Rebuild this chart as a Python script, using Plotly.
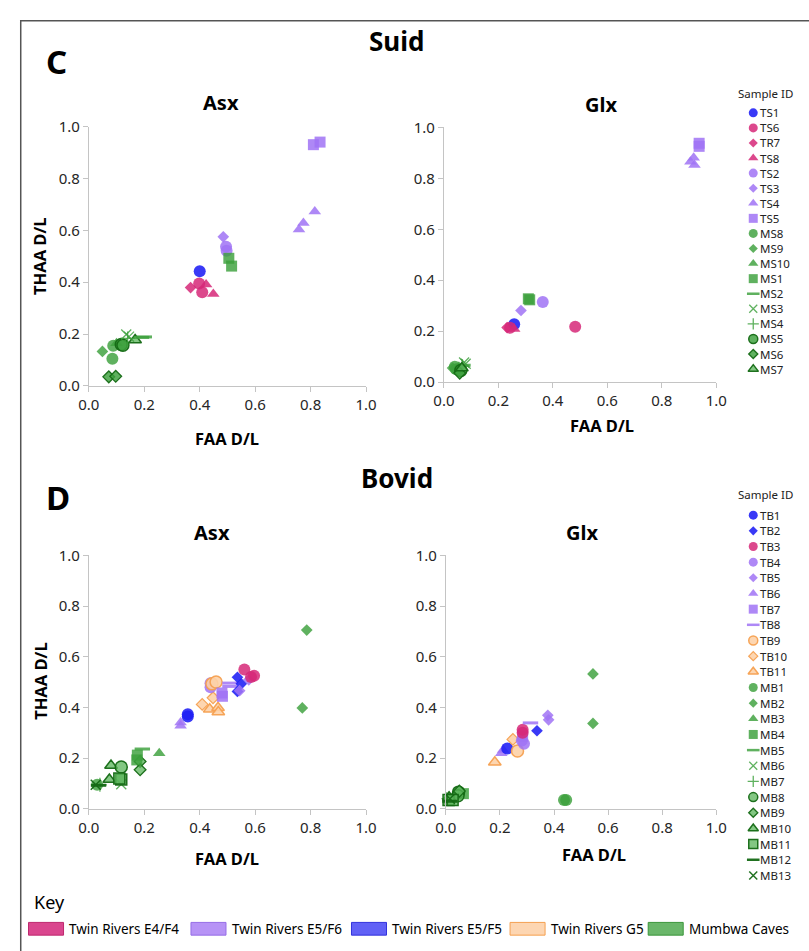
import plotly.graph_objects as go

FIG_W, FIG_H = 809, 951

# ---------------- data: FAA D/L (x) and THAA D/L (y) per sample ----------------
# Suid, Asx
suid_asx_id = ["TS1", "TS6", "TS6", "TR7", "TS8", "TS8", "TS2", "TS2", "TS3",
               "TS4", "TS4", "TS4", "TS5", "TS5", "MS1", "MS1", "MS8", "MS8",
               "MS9", "MS6", "MS6", "MS10", "MS5", "MS5", "MS7", "MS3", "MS3",
               "MS4", "MS2", "MS2"]
suid_asx_faa = [0.400, 0.398, 0.409, 0.367, 0.423, 0.449, 0.495, 0.497, 0.485,
                0.815, 0.774, 0.758, 0.810, 0.834, 0.505, 0.515, 0.085, 0.088,
                0.049, 0.072, 0.097, 0.100, 0.117, 0.123, 0.167, 0.135, 0.145,
                0.140, 0.190, 0.200]
suid_asx_thaa = [0.442, 0.395, 0.361, 0.379, 0.391, 0.354, 0.537, 0.521, 0.575,
                 0.672, 0.628, 0.603, 0.930, 0.940, 0.492, 0.462, 0.105, 0.155,
                 0.133, 0.035, 0.037, 0.165, 0.160, 0.157, 0.177, 0.198, 0.190,
                 0.183, 0.187, 0.189]

# Suid, Glx
suid_glx_id = ["TS1", "TS6", "TS6", "TR7", "TS8", "TS2", "TS3", "TS4", "TS4",
               "TS4", "TS5", "TS5", "MS1", "MS1", "MS8", "MS8", "MS9", "MS10",
               "MS2", "MS3", "MS3", "MS4", "MS5", "MS6", "MS7"]
suid_glx_faa = [0.258, 0.482, 0.243, 0.232, 0.258, 0.363, 0.283, 0.905, 0.917,
                0.920, 0.937, 0.937, 0.310, 0.315, 0.045, 0.040, 0.032, 0.055,
                0.070, 0.080, 0.074, 0.068, 0.062, 0.058, 0.066]
suid_glx_thaa = [0.227, 0.217, 0.213, 0.214, 0.208, 0.314, 0.281, 0.865, 0.881,
                 0.853, 0.938, 0.926, 0.327, 0.323, 0.050, 0.060, 0.055, 0.060,
                 0.066, 0.072, 0.077, 0.062, 0.045, 0.035, 0.055]

# Bovid, Asx
bovid_asx_id = ["TB6", "TB6", "TB1", "TB1", "TB10", "TB10", "TB11", "TB11", "TB11",
                "TB4", "TB4", "TB9", "TB9", "TB7", "TB7", "TB8", "TB8", "TB2",
                "TB2", "TB2", "TB5", "TB5", "TB3", "TB3", "TB3", "MB2", "MB2",
                "MB1", "MB7", "MB12", "MB13", "MB6", "MB10", "MB10", "MB8",
                "MB11", "MB11", "MB9", "MB9", "MB4", "MB4", "MB5", "MB3"]
bovid_asx_faa = [0.331, 0.331, 0.357, 0.357, 0.409, 0.448, 0.436, 0.466, 0.467,
                 0.439, 0.439, 0.444, 0.459, 0.482, 0.480, 0.509, 0.509, 0.536,
                 0.550, 0.536, 0.577, 0.544, 0.561, 0.596, 0.585, 0.786, 0.770,
                 0.030, 0.040, 0.035, 0.025, 0.117, 0.080, 0.074, 0.117,
                 0.117, 0.110, 0.185, 0.185, 0.175, 0.173, 0.193, 0.254]
bovid_asx_thaa = [0.341, 0.328, 0.373, 0.364, 0.412, 0.438, 0.393, 0.399, 0.382,
                  0.495, 0.480, 0.493, 0.500, 0.444, 0.457, 0.496, 0.483, 0.519,
                  0.493, 0.463, 0.509, 0.466, 0.550, 0.525, 0.520, 0.705, 0.398,
                  0.095, 0.095, 0.093, 0.095, 0.097, 0.171, 0.116, 0.165,
                  0.116, 0.120, 0.187, 0.154, 0.212, 0.193, 0.236, 0.219]

# Bovid, Glx
bovid_glx_id = ["TB11", "TB6", "TB6", "TB1", "TB9", "TB10", "TB4", "TB4", "TB7",
                "TB3", "TB3", "TB2", "TB8", "TB5", "TB5", "MB1", "MB1", "MB2",
                "MB2", "MB3", "MB4", "MB5", "MB6", "MB7", "MB8", "MB8", "MB9",
                "MB10", "MB11", "MB11", "MB12", "MB13"]
bovid_glx_faa = [0.181, 0.205, 0.212, 0.227, 0.265, 0.248, 0.289, 0.281, 0.284,
                 0.284, 0.284, 0.337, 0.313, 0.377, 0.380, 0.437, 0.445, 0.544,
                 0.544, 0.020, 0.065, 0.030, 0.020, 0.010, 0.047, 0.045, 0.050,
                 0.012, 0.010, 0.025, 0.015, 0.015]
bovid_glx_thaa = [0.184, 0.219, 0.232, 0.238, 0.228, 0.274, 0.257, 0.270, 0.287,
                  0.312, 0.300, 0.308, 0.339, 0.369, 0.351, 0.035, 0.035, 0.532,
                  0.337, 0.040, 0.060, 0.042, 0.045, 0.040, 0.066, 0.052, 0.070,
                  0.046, 0.035, 0.035, 0.030, 0.040]

suid_legend_ids = ["TS1", "TS6", "TR7", "TS8", "TS2", "TS3", "TS4", "TS5", "MS8",
                   "MS9", "MS10", "MS1", "MS2", "MS3", "MS4", "MS5", "MS6", "MS7"]
bovid_legend_ids = ["TB1", "TB2", "TB3", "TB4", "TB5", "TB6", "TB7", "TB8", "TB9",
                    "TB10", "TB11", "MB1", "MB2", "MB3", "MB4", "MB5", "MB6", "MB7",
                    "MB8", "MB9", "MB10", "MB11", "MB12", "MB13"]

key_labels = ["Twin Rivers E4/F4", "Twin Rivers E5/F6", "Twin Rivers E5/F5",
              "Twin Rivers G5", "Mumbwa Caves"]
tick_vals = [0.0, 0.2, 0.4, 0.6, 0.8, 1.0]
tick_text = ["0.0", "0.2", "0.4", "0.6", "0.8", "1.0"]

# ---------------- styles ----------------
BLUE = "rgba(30,30,245,0.88)"
PINK = "rgba(214,40,120,0.85)"
PURPLE = "rgba(160,115,245,0.85)"
ORANGE_FILL = "rgba(253,210,168,0.9)"
ORANGE_LINE = "rgba(245,160,80,0.95)"
GREEN = "rgba(60,160,60,0.82)"
GREEN_LT = "rgba(90,180,90,0.75)"
DKGREEN = "rgba(20,105,20,0.95)"

# sample -> (symbol, fill colour, outline colour, outline width)
STYLE = {
    "TS1": ("circle", BLUE, BLUE, 0), "TS6": ("circle", PINK, PINK, 0),
    "TR7": ("diamond", PINK, PINK, 0), "TS8": ("triangle-up", PINK, PINK, 0),
    "TS2": ("circle", PURPLE, PURPLE, 0), "TS3": ("diamond", PURPLE, PURPLE, 0),
    "TS4": ("triangle-up", PURPLE, PURPLE, 0), "TS5": ("square", PURPLE, PURPLE, 0),
    "MS8": ("circle", GREEN, GREEN, 0), "MS9": ("diamond", GREEN, GREEN, 0),
    "MS10": ("triangle-up", GREEN, GREEN, 0), "MS1": ("square", GREEN, GREEN, 0),
    "MS2": ("line-ew", GREEN, GREEN, 3), "MS3": ("x-thin", GREEN, GREEN, 1.3),
    "MS4": ("cross-thin", GREEN, GREEN, 1.3), "MS5": ("circle", GREEN, DKGREEN, 1.5),
    "MS6": ("diamond", GREEN, DKGREEN, 1.3), "MS7": ("triangle-up", GREEN_LT, DKGREEN, 1.5),
    "TB1": ("circle", BLUE, BLUE, 0), "TB2": ("diamond", BLUE, BLUE, 0),
    "TB3": ("circle", PINK, PINK, 0), "TB4": ("circle", PURPLE, PURPLE, 0),
    "TB5": ("diamond", PURPLE, PURPLE, 0), "TB6": ("triangle-up", PURPLE, PURPLE, 0),
    "TB7": ("square", PURPLE, PURPLE, 0), "TB8": ("line-ew", PURPLE, PURPLE, 3),
    "TB9": ("circle", ORANGE_FILL, ORANGE_LINE, 1.5),
    "TB10": ("diamond", ORANGE_FILL, ORANGE_LINE, 1.2),
    "TB11": ("triangle-up", ORANGE_FILL, ORANGE_LINE, 1.5),
    "MB1": ("circle", GREEN, GREEN, 0), "MB2": ("diamond", GREEN, GREEN, 0),
    "MB3": ("triangle-up", GREEN, GREEN, 0), "MB4": ("square", GREEN, GREEN, 0),
    "MB5": ("line-ew", GREEN, GREEN, 3), "MB6": ("x-thin", GREEN, GREEN, 1.3),
    "MB7": ("cross-thin", GREEN, GREEN, 1.3), "MB8": ("circle", GREEN_LT, DKGREEN, 1.5),
    "MB9": ("diamond", GREEN_LT, DKGREEN, 1.3), "MB10": ("triangle-up", GREEN_LT, DKGREEN, 1.5),
    "MB11": ("square", GREEN_LT, DKGREEN, 1.5), "MB12": ("line-ew", DKGREEN, DKGREEN, 3),
    "MB13": ("x-thin", DKGREEN, DKGREEN, 1.5),
}
SIZE = {"circle": 12, "square": 11, "triangle-up": 11, "diamond": 9,
        "line-ew": 11, "x-thin": 10, "cross-thin": 10}
LEG_SIZE = {"circle": 9, "square": 9, "triangle-up": 9, "diamond": 7,
            "line-ew": 9, "x-thin": 8, "cross-thin": 8}

KEY_FILL = ["rgba(214,50,130,0.9)", "rgba(175,135,245,0.9)", "rgba(80,80,245,0.9)",
            "rgba(253,214,178,1)", "rgba(90,175,90,0.9)"]
KEY_LINE = ["rgb(190,40,110)", "rgb(150,110,230)", "rgb(50,50,220)",
            "rgb(245,160,80)", "rgb(60,150,60)"]

FONT = "Noto Sans"


def px(x):
    return x / FIG_W


def py(y):
    return 1 - y / FIG_H


fig = go.Figure()

# panel axes: (x axis, y axis, x pixel span, y pixel span (top, bottom))
panels = [
    ("x", "y", (80, 365), (118, 383), suid_asx_id, suid_asx_faa, suid_asx_thaa),
    ("x2", "y2", (445, 725), (119, 379), suid_glx_id, suid_glx_faa, suid_glx_thaa),
    ("x3", "y3", (80, 365), (556, 815), bovid_asx_id, bovid_asx_faa, bovid_asx_thaa),
    ("x4", "y4", (447, 725), (556, 815), bovid_glx_id, bovid_glx_faa, bovid_glx_thaa),
]

axis_common = dict(range=[0, 1], tickvals=tick_vals, ticktext=tick_text,
                   showgrid=False, zeroline=False, showline=True,
                   linecolor="#c4c4c4", linewidth=1, ticks="outside",
                   ticklen=5, tickcolor="#c4c4c4",
                   tickfont=dict(family=FONT, size=15, color="#262626"),
                   fixedrange=True)

for xa, ya, (x0, x1), (y0, y1), ids, xs, ys in panels:
    order = []
    for sid in ids:
        if sid not in order:
            order.append(sid)
    for sid in order:
        sym, fill, line, lw = STYLE[sid]
        px_ = [xs[i] for i, s in enumerate(ids) if s == sid]
        py_ = [ys[i] for i, s in enumerate(ids) if s == sid]
        lc = fill if sym in ("line-ew", "x-thin", "cross-thin") else line
        fig.add_trace(go.Scatter(
            x=px_, y=py_, mode="markers", xaxis=xa, yaxis=ya, name=sid,
            showlegend=False, cliponaxis=False,
            marker=dict(symbol=sym, size=SIZE[sym], color=fill,
                        line=dict(color=lc, width=lw)),
        ))
    xkey = "xaxis" + xa[1:]
    ykey = "yaxis" + ya[1:]
    fig.layout[xkey] = dict(axis_common, domain=[px(x0), px(x1)], anchor=ya)
    fig.layout[ykey] = dict(axis_common, domain=[py(y1), py(y0)], anchor=xa)

# legend area drawn on a pixel-scaled overlay axis
fig.layout["xaxis5"] = dict(domain=[0, 1], range=[0, FIG_W], visible=False,
                            fixedrange=True, anchor="y5")
fig.layout["yaxis5"] = dict(domain=[0, 1], range=[FIG_H, 0], visible=False,
                            fixedrange=True, anchor="x5")

annotations = []


def legend_block(ids, title_y, first_y, step):
    annotations.append(dict(text="Sample ID", x=776, y=title_y, xref="x5", yref="y5",
                            showarrow=False, xanchor="center", yanchor="middle",
                            borderpad=0,
                            font=dict(family=FONT, size=11.5, color="#222")))
    for i, sid in enumerate(ids):
        sym, fill, line, lw = STYLE[sid]
        yy = first_y + i * step
        lc = fill if sym in ("line-ew", "x-thin", "cross-thin") else line
        fig.add_trace(go.Scatter(
            x=[763], y=[yy], mode="markers", xaxis="x5", yaxis="y5",
            showlegend=False, cliponaxis=False, hoverinfo="skip",
            marker=dict(symbol=sym, size=LEG_SIZE[sym], color=fill,
                        line=dict(color=lc, width=min(lw, 2.5) if lw else 0)),
        ))
        annotations.append(dict(text=sid, x=769, y=yy, xref="x5", yref="y5",
                                showarrow=False, xanchor="left", yanchor="middle",
                                borderpad=0,
                                font=dict(family=FONT, size=11.5, color="#222")))


legend_block(suid_legend_ids, 84, 104, 15.4)
legend_block(bovid_legend_ids, 494, 515, 16.0)


def label(text, x, y, size, bold=True, angle=0, anchor="center"):
    annotations.append(dict(
        text=f"<b>{text}</b>" if bold else text, x=px(x), y=py(y),
        xref="paper", yref="paper", showarrow=False, textangle=angle,
        xanchor=anchor, yanchor="middle",
        font=dict(family=FONT, size=size, color="#000")))


label("Suid", 396, 31, 26)
label("C", 47, 52, 33)
label("Asx", 216, 93, 20)
label("Glx", 607, 95, 20)
label("THAA D/L", 30, 251, 16.5, angle=-90)
label("FAA D/L", 222, 437, 16.5)
label("FAA D/L", 608, 423, 16.5)

label("Bovid", 397, 477, 26)
label("D", 48, 497, 33)
label("Asx", 207, 533, 20)
label("Glx", 587, 533, 20)
label("THAA D/L", 30, 685, 16.5, angle=-90)
label("FAA D/L", 222, 866, 16.5)
label("FAA D/L", 599, 862, 16.5)

label("Key", 22, 910, 18, bold=False, anchor="left")

shapes = [dict(type="rect", xref="paper", yref="paper",
               x0=px(10), x1=px(830), y0=py(970), y1=py(10),
               line=dict(color="#555", width=1.5), fillcolor="rgba(0,0,0,0)")]

key_swatch_x = [18, 185, 350, 513, 655]
for i, name in enumerate(key_labels):
    sx = key_swatch_x[i]
    shapes.append(dict(type="rect", xref="paper", yref="paper",
                       x0=px(sx), x1=px(sx + 36), y0=py(944), y1=py(931),
                       line=dict(color=KEY_LINE[i], width=1), fillcolor=KEY_FILL[i]))
    label(name, sx + 40, 938, 13.5, bold=False, anchor="left")

fig.update_layout(
    width=FIG_W, height=FIG_H, margin=dict(l=0, r=0, t=0, b=0),
    paper_bgcolor="white", plot_bgcolor="rgba(0,0,0,0)",
    showlegend=False, annotations=annotations, shapes=shapes,
    font=dict(family=FONT, color="#222"),
)

fig.write_html("out.html")
